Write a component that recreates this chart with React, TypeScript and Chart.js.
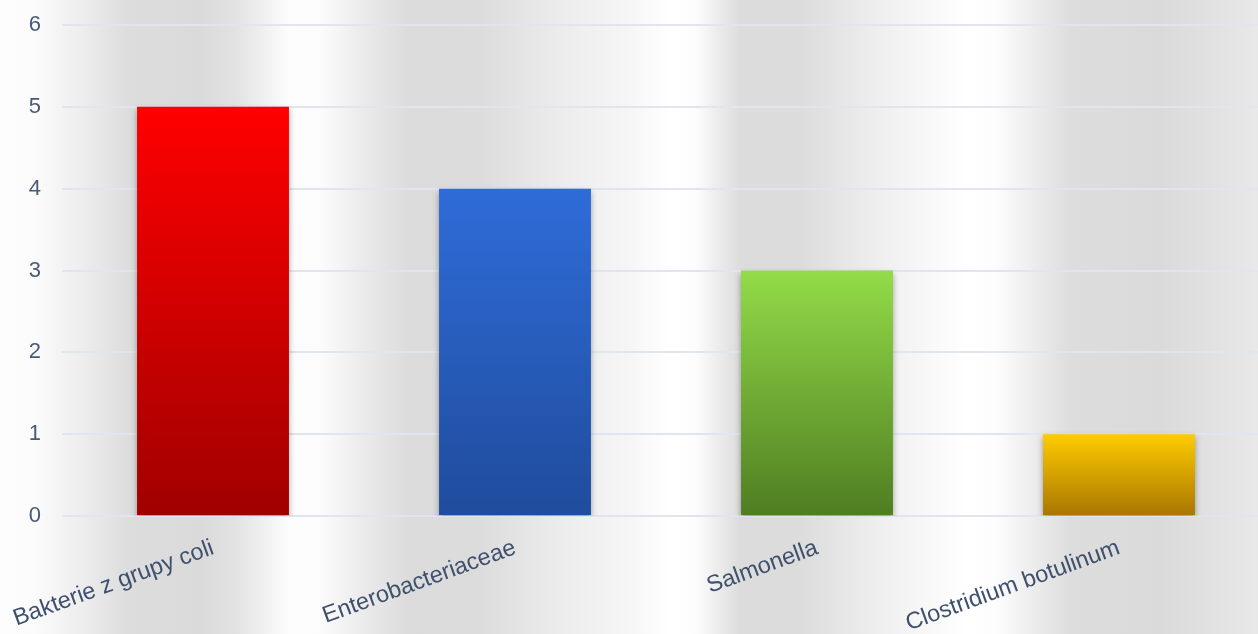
import React, { useEffect, useRef } from "react";
import { Chart, registerables } from "chart.js";

Chart.register(...registerables);

const categories = ["Bakterie z grupy coli", "Enterobacteriaceae", "Salmonella", "Clostridium botulinum"];
const values = [5, 4, 3, 1];
const topColors = ["#ff0000", "#2f6cd9", "#93dc48", "#ffcc00"];
const bottomColors = ["#a00000", "#1f4c9c", "#4f7d22", "#a87600"];
const yTicks = [0, 1, 2, 3, 4, 5, 6];

const bgStops: [number, string][] = [
  [0, "#fdfdfd"],
  [35, "#fbfbfb"],
  [80, "#eeeeee"],
  [127, "#dddddd"],
  [200, "#dadada"],
  [235, "#e2e2e2"],
  [290, "#fdfdfd"],
  [320, "#fcfcfc"],
  [360, "#ececec"],
  [410, "#dbdbdb"],
  [480, "#dcdcdc"],
  [560, "#ececec"],
  [630, "#f6f6f6"],
  [670, "#ffffff"],
  [695, "#fdfdfd"],
  [740, "#dcdcdc"],
  [800, "#dcdcdc"],
  [880, "#efefef"],
  [965, "#ffffff"],
  [995, "#fdfdfd"],
  [1070, "#dddddd"],
  [1160, "#dadada"],
  [1258, "#e8e8e8"],
  [1270, "#eaeaea"],
];

const CANVAS_W = 1270;
const CANVAS_H = 634;

const bgPlugin = {
  id: "bgStripes",
  beforeDraw(chart: any) {
    const { ctx, width, height } = chart;
    const g = ctx.createLinearGradient(0, 0, width, 0);
    bgStops.forEach(([x, c]) => g.addColorStop(Math.min(1, x / width), c));
    ctx.save();
    ctx.fillStyle = g;
    ctx.fillRect(0, 0, width, height);
    ctx.restore();
  },
  beforeDatasetsDraw(chart: any) {
    const ctx = chart.ctx;
    ctx.save();
    ctx.shadowColor = "rgba(0,0,0,0.35)";
    ctx.shadowBlur = 6;
    ctx.shadowOffsetX = 0;
    ctx.shadowOffsetY = 3;
  },
  afterDatasetsDraw(chart: any) {
    chart.ctx.restore();
  },
};

export default function App() {
  const ref = useRef<HTMLCanvasElement>(null);
  useEffect(() => {
    const chart = new Chart(ref.current as HTMLCanvasElement, {
      type: "bar",
      data: {
        labels: categories,
        datasets: [
          {
            data: values,
            backgroundColor: (c: any) => {
              const chart = c.chart;
              const ys = chart.scales?.y;
              if (!ys || c.dataIndex === undefined) return topColors[0];
              const v = values[c.dataIndex];
              const top = ys.getPixelForValue(v);
              const bottom = ys.getPixelForValue(0);
              if (!isFinite(top) || !isFinite(bottom) || top === bottom) return topColors[c.dataIndex];
              const g = chart.ctx.createLinearGradient(0, top, 0, bottom);
              g.addColorStop(0, topColors[c.dataIndex]);
              g.addColorStop(1, bottomColors[c.dataIndex]);
              return g;
            },
            borderWidth: 0,
            categoryPercentage: 1,
            barPercentage: 0.503,
          },
        ],
      },
      options: {
        animation: false,
        responsive: false,
        maintainAspectRatio: false,
        layout: { padding: { top: 25, left: 0, right: 0, bottom: 0 } },
        plugins: { legend: { display: false }, tooltip: { enabled: false } },
        scales: {
          x: {
            grid: { display: false, drawTicks: false },
            border: { display: false },
            ticks: {
              color: "#3f506d",
              font: { family: "Liberation Sans, Arial, sans-serif", size: 23.5 },
              minRotation: 20,
              maxRotation: 20,
              autoSkip: false,
              padding: 18,
            },
            afterFit: (s: any) => {
              s.height = 118;
              s.paddingLeft = 0;
              s.paddingRight = 0;
            },
          },
          y: {
            min: 0,
            max: 6,
            afterBuildTicks: (s: any) => {
              s.ticks = yTicks.map((v) => ({ value: v }));
            },
            grid: { color: "#e1e6ee", lineWidth: 2, drawTicks: false },
            border: { display: false },
            ticks: {
              color: "#4a5a75",
              font: { family: "Liberation Sans, Arial, sans-serif", size: 22 },
              padding: 21,
            },
            afterFit: (s: any) => {
              s.width = 62;
              s.paddingTop = 0;
              s.paddingBottom = 0;
            },
          },
        },
      },
      plugins: [bgPlugin],
    } as any);
    return () => chart.destroy();
  }, []);
  return (
    <div style={{ position: "fixed", left: 0, top: 0, width: 1258, height: 634, overflow: "hidden" }}>
      <canvas ref={ref} width={CANVAS_W} height={CANVAS_H} style={{ display: "block" }} />
    </div>
  );
}
